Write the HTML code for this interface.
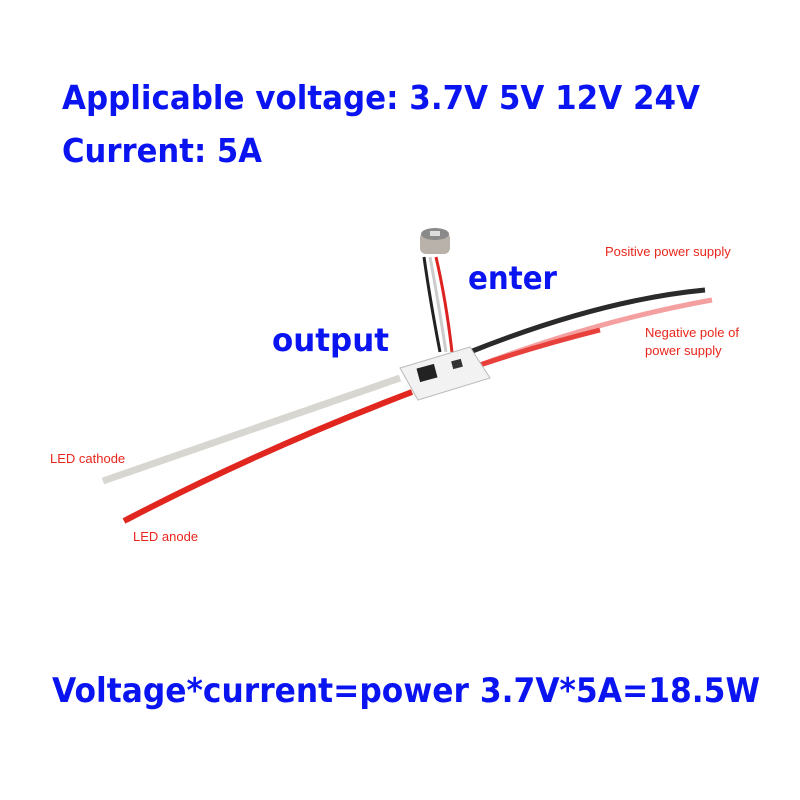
<!DOCTYPE html>
<html><head><style>
html,body{margin:0;padding:0;background:#fff;width:800px;height:800px;overflow:hidden}
</style></head><body>
<svg width="800" height="800" viewBox="0 0 800 800" xmlns="http://www.w3.org/2000/svg" font-family="DejaVu Sans, Liberation Sans, sans-serif">
<rect width="800" height="800" fill="#fff"/>
<g fill="#0a14f0" font-weight="bold">
<text x="62" y="109" font-size="33" textLength="638" lengthAdjust="spacingAndGlyphs">Applicable voltage: 3.7V 5V 12V 24V</text>
<text x="62" y="162" font-size="33" textLength="200" lengthAdjust="spacingAndGlyphs">Current: 5A</text>
<text x="52" y="702" font-size="34" textLength="708" lengthAdjust="spacingAndGlyphs">Voltage*current=power 3.7V*5A=18.5W</text>
<text x="468" y="289" font-size="32" textLength="89" lengthAdjust="spacingAndGlyphs">enter</text>
<text x="272" y="351" font-size="32" textLength="117" lengthAdjust="spacingAndGlyphs">output</text>
</g>
<g fill="#e8261c" font-size="13" font-family="Liberation Sans, sans-serif">
<text x="605" y="256">Positive power supply</text>
<text x="645" y="337">Negative pole of</text>
<text x="645" y="355">power supply</text>
<text x="50" y="463">LED cathode</text>
<text x="133" y="541">LED anode</text>
</g>
<path d="M400 378 Q250 430 103 481" stroke="#d8d6d0" stroke-width="7" fill="none"/>
<path d="M412 392 Q260 450 124 521" stroke="#e0261e" stroke-width="6" fill="none"/>
<path d="M470 352 Q600 300 705 290" stroke="#2a2a2a" stroke-width="5" fill="none"/>
<path d="M480 365 Q600 320 712 300" stroke="#f4a0a0" stroke-width="5" fill="none"/>
<path d="M480 365 Q540 345 600 330" stroke="#e8403a" stroke-width="5" fill="none"/>
<path d="M424 257 Q430 300 440 352" stroke="#222" stroke-width="3" fill="none"/>
<path d="M430 257 Q438 300 446 352" stroke="#ccc" stroke-width="3" fill="none"/>
<path d="M436 257 Q446 300 452 352" stroke="#d22" stroke-width="3" fill="none"/>
<rect x="420" y="232" width="30" height="22" rx="6" fill="#b8b2aa"/>
<ellipse cx="435" cy="234" rx="14" ry="6" fill="#8a8a8a"/>
<rect x="430" y="231" width="10" height="5" fill="#ddd"/>
<polygon points="400,368 470,347 490,378 418,400" fill="#f2f2f2" stroke="#bbb"/>
<rect x="418" y="366" width="18" height="14" fill="#222" transform="rotate(-15 427 373)"/>
<rect x="452" y="360" width="10" height="8" fill="#333" transform="rotate(-15 457 364)"/>
</svg>
</body></html>
